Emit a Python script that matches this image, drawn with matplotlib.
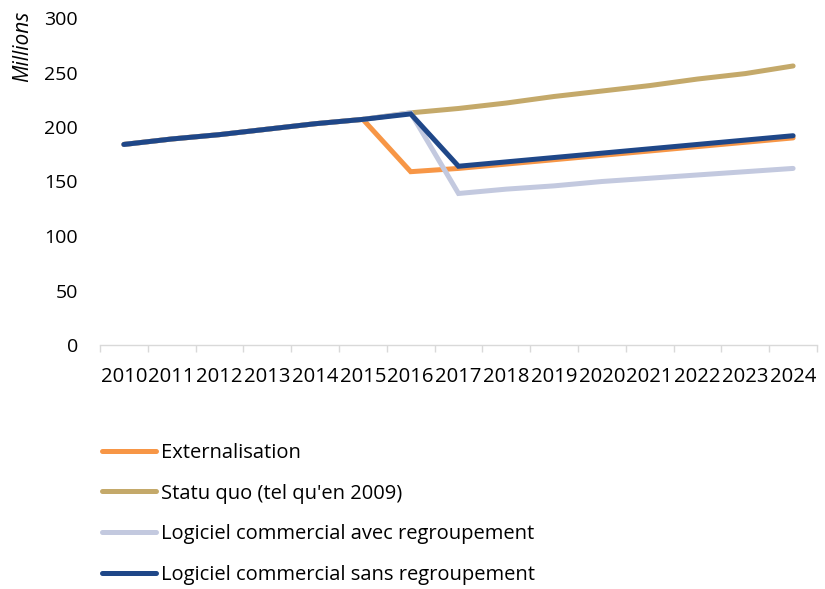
import matplotlib
matplotlib.use("Agg")
import matplotlib.pyplot as plt

plt.rcParams['font.family'] = ['Open Sans', 'DejaVu Sans']

years = [str(y) for y in range(2010, 2025)]

# values in millions
externalisation = [184, 189, 193, 198, 203, 207, 159, 162, 166, 170, 174, 178, 182, 186, 190]
statu_quo = [184, 189, 193, 198, 203, 207, 213, 217, 222, 228, 233, 238, 244, 249, 256]
avec_regroupement = [184, 189, 193, 198, 203, 207, 213, 139, 143, 146, 150, 153, 156, 159, 162]
sans_regroupement = [184, 189, 193, 198, 203, 207, 212, 164, 168, 172, 176, 180, 184, 188, 192]

series = [
    ("Externalisation", externalisation, "#F79646"),
    ("Statu quo (tel qu'en 2009)", statu_quo, "#C4A96A"),
    ("Logiciel commercial avec regroupement", avec_regroupement, "#C3C9DF"),
    ("Logiciel commercial sans regroupement", sans_regroupement, "#1F4788"),
]

fig = plt.figure(figsize=(8.25, 5.89), dpi=100)
ax = fig.add_axes([100 / 825, 1 - 345 / 589, 717 / 825, 327 / 589])

x = list(range(len(years)))
for label, vals, color in series:
    ax.plot(x, vals, color=color, lw=3.6, label=label, solid_capstyle='round',
            solid_joinstyle='miter')

ax.set_xlim(-0.5, len(years) - 0.5)
ax.set_ylim(0, 300)
ax.set_yticks(range(0, 301, 50))
ax.set_xticks(x)
ax.set_xticklabels(years)
ax.set_xticks([i - 0.5 for i in range(len(years) + 1)], minor=True)
ax.tick_params(axis='x', which='major', length=0, pad=16, labelsize=14.6, colors='#000000')
ax.tick_params(axis='x', which='minor', length=5, width=1, color='#D9D9D9')
ax.tick_params(axis='y', length=0, pad=16, labelsize=14)

for side in ['top', 'right', 'left']:
    ax.spines[side].set_visible(False)
ax.spines['bottom'].set_color('#D9D9D9')
ax.spines['bottom'].set_linewidth(1)

fig.text(23 / 825, 1 - 46 / 589, "Millions", rotation=90, style='italic',
         fontsize=15, ha='center', va='center')

fig.legend(loc='upper left', bbox_to_anchor=(102 / 825, 1 - 443 / 589),
           frameon=False, fontsize=14.5, handlelength=2.7, handletextpad=0.25,
           labelspacing=1.02, borderpad=0, borderaxespad=0)

fig.savefig("out.png", dpi=100)
